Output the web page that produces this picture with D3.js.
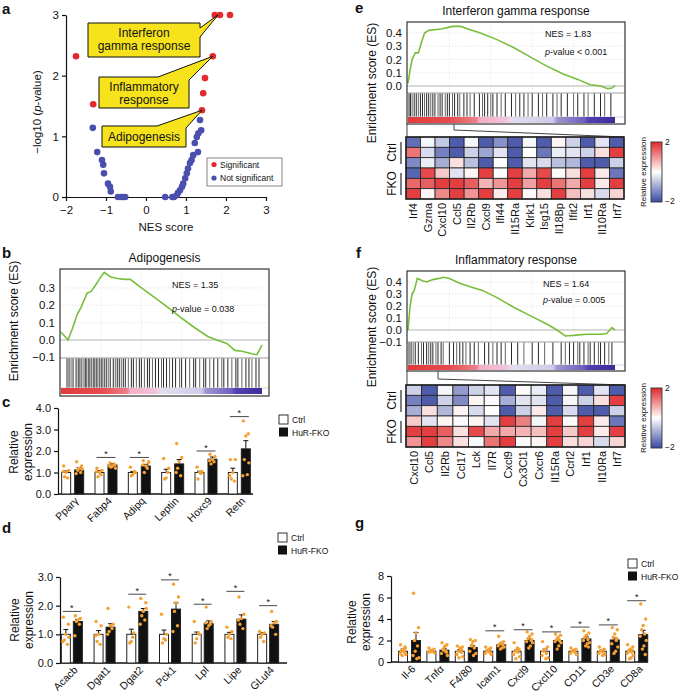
<!DOCTYPE html>
<html><head><meta charset="utf-8">
<script src="https://cdn.jsdelivr.net/npm/d3@7"></script>
<style>body{margin:0;background:#fff}svg{display:block}text{font-family:"Liberation Sans",Arial,Helvetica,sans-serif;fill:#111}</style>
</head><body><svg id="c" width="685" height="694"></svg>
<script>
// ================= DATA =================
// panel a
const aSigNES = [-1.75, -1.32, 1.72, 1.85, 2.1, 1.67, 1.475, 1.43, 1.4];
const aSigP   = [2.32, 1.53, 3.0, 3.0, 3.0, 2.32, 1.96, 1.71, 1.43];
const aNsNES  = [-1.33,-1.22,-1.1,-1.07,-1.05,-0.95,-0.9,-0.88,-0.7,-0.62,-0.57,-0.52,0.48,0.66,0.7,0.77,0.8,0.85,0.9,0.93,0.98,1.02,1.05,1.1,1.14,1.18,1.22,1.27,1.3,1.31,1.35,1.38];
const aNsP    = [1.14,0.74,0.61,0.53,0.39,0.22,0.17,0.09,0,0,0,0,0,0,0,0.03,0.07,0.11,0.17,0.22,0.31,0.39,0.47,0.56,0.61,0.69,0.89,0.99,0.74,1.05,1.27,1.1];
const aXTicks = [-2,-1,0,1,2,3];
const aYTicks = [0,1,2,3];
const aCallouts = [["Interferon","gamma response"],["Inflammatory","response"],["Adipogenesis"]];

// panel b (Adipogenesis)
const bRank = [0,0.035,0.055,0.08,0.10,0.13,0.15,0.18,0.195,0.215,0.245,0.28,0.32,0.345,0.39,0.46,0.53,0.59,0.66,0.73,0.775,0.825,0.865,0.9,0.95,0.975,1.0];
const bES   = [0.046,0.0,0.06,0.145,0.19,0.27,0.28,0.33,0.36,0.39,0.365,0.355,0.35,0.35,0.31,0.25,0.19,0.135,0.075,0.02,0.0,-0.02,-0.06,-0.065,-0.08,-0.085,-0.03];
const bHits = [0.03,0.04,0.05,0.06,0.075,0.085,0.09,0.1,0.11,0.12,0.125,0.135,0.14,0.15,0.16,0.165,0.175,0.18,0.19,0.2,0.205,0.215,0.225,0.235,0.245,0.26,0.27,0.28,0.29,0.30,0.31,0.32,0.335,0.35,0.36,0.375,0.39,0.40,0.415,0.43,0.44,0.455,0.47,0.485,0.5,0.51,0.525,0.54,0.555,0.57,0.59,0.6,0.62,0.64,0.66,0.67,0.69,0.71,0.72,0.74,0.76,0.78,0.8,0.81,0.83,0.85,0.87,0.88,0.9,0.92,0.935,0.95,0.97,0.985];
const bTicks = [-0.1,0,0.1,0.2,0.3];

// panel e (Interferon gamma response)
const eRank = [0,0.01,0.02,0.035,0.05,0.065,0.08,0.10,0.16,0.215,0.255,0.29,0.35,0.43,0.51,0.59,0.67,0.75,0.82,0.88,0.93,0.965,0.985,1.0];
const eES   = [0.02,0.12,0.2,0.25,0.25,0.33,0.40,0.42,0.43,0.45,0.45,0.43,0.40,0.35,0.29,0.22,0.15,0.09,0.05,0.01,0.0,-0.02,-0.015,0.005];
const eHits = [0.005,0.012,0.02,0.03,0.04,0.05,0.06,0.07,0.08,0.09,0.1,0.11,0.12,0.13,0.145,0.155,0.165,0.18,0.19,0.2,0.215,0.225,0.24,0.25,0.27,0.285,0.3,0.32,0.345,0.36,0.37,0.385,0.4,0.41,0.43,0.45,0.47,0.5,0.52,0.54,0.56,0.58,0.6,0.63,0.65,0.67,0.7,0.72,0.74,0.77,0.8,0.82,0.85,0.87,0.9,0.93,0.95,0.98];
const eTicks = [0,0.1,0.2,0.3,0.4];

// panel f (Inflammatory response)
const fRank = [0,0.01,0.02,0.03,0.045,0.07,0.09,0.12,0.15,0.17,0.2,0.25,0.3,0.36,0.43,0.51,0.59,0.67,0.72,0.76,0.8,0.86,0.93,0.96,0.985,1.0];
const fES   = [0.0,0.2,0.3,0.33,0.43,0.41,0.40,0.42,0.43,0.44,0.43,0.39,0.36,0.33,0.27,0.19,0.12,0.05,0.0,-0.05,-0.045,-0.035,-0.035,-0.03,0.02,0.0];
const fHits = [0.005,0.015,0.025,0.035,0.05,0.065,0.075,0.09,0.1,0.11,0.12,0.135,0.145,0.16,0.17,0.2,0.22,0.235,0.25,0.265,0.28,0.3,0.32,0.34,0.37,0.39,0.41,0.43,0.45,0.47,0.5,0.53,0.56,0.6,0.63,0.66,0.7,0.74,0.76,0.78,0.8,0.82,0.83,0.85,0.87,0.88,0.9,0.92,0.93,0.95,0.97,0.985];
const fTicks = [-0.1,0,0.1,0.2,0.3,0.4];

const eGenes = ["Irf4","Gzma","Cxcl10","Ccl5","Il2Rb","Cxcl9","Ifi44","Il15Ra","Klrk1","Isg15","Il18Bp","Ifit2","Irf1","Il10Ra","Irf7"];
const eHeat = [
 [-1.6,-0.1,-0.6,-1.8,-0.1,-1.8,-1.2,-1.8,-0.1,-1.8,0.1,-0.5,-1.8,-0.3,-1.8],
 [1.3,-0.4,-1.4,-1.8,-0.5,-1.0,-0.3,-1.8,0.0,-1.5,-0.2,-0.3,-0.5,0.3,1.8],
 [-1.3,-0.2,-0.9,0.3,-0.7,-1.8,0.0,-1.8,-0.3,-0.4,-0.7,-0.8,-1.8,-1.8,-0.5],
 [-1.7,1.7,0.5,-0.3,0.1,1.8,0.0,1.8,0.8,1.7,0.05,0.3,1.8,0.2,-1.5],
 [1.4,1.5,1.8,1.8,1.5,0.7,1.0,1.8,0.9,1.8,1.3,0.8,1.8,0.2,1.8],
 [1.8,0.1,1.1,1.8,1.0,1.8,0.2,1.8,0.05,0.3,1.8,0.6,0.3,-0.4,0.4]];
const fGenes = ["Cxcl10","Ccl5","Il2Rb","Ccl17","Lck","Il7R","Cxcl9","Cx3Cl1","Cxcr6","Il15Ra","Ccrl2","Irf1","Il10Ra","Irf7"];
const fHeat = [
 [-0.5,-1.8,-0.1,-1.1,-0.5,-0.3,-1.8,0.05,-0.2,-1.8,-0.1,-1.8,-0.3,-1.8],
 [-1.4,-1.8,-0.5,-1.3,0.1,-0.05,-0.9,-0.3,-0.3,-1.8,-0.1,-0.5,0.3,1.8],
 [-0.9,0.3,-0.8,0.1,-0.4,0.0,-1.8,-0.5,0.2,-1.8,-0.4,-1.8,-1.8,-0.5],
 [0.5,-0.3,0.1,-0.05,0.1,-0.3,1.8,1.2,-0.1,1.8,0.05,1.8,0.2,-1.5],
 [1.8,1.8,1.5,0.3,1.7,0.8,0.8,0.7,0.6,1.8,0.5,1.8,0.2,1.8],
 [1.0,1.8,1.1,0.3,-0.05,1.3,1.8,0.05,0.1,1.8,0.3,0.4,-0.4,0.4]];

// panel c
const cGenes = ["Pparγ","Fabp4","Adipq","Leptin","Hoxc9","Retn"];
const cCtrl = [1,1,1,1,1,1];
const cFko = [1.12,1.35,1.3,1.4,1.62,2.1];
const cCtrlErr = [0.07,0.08,0.05,0.15,0.06,0.2];
const cFkoErr = [0.1,0.06,0.08,0.2,0.1,0.38];
const cCtrlDots = [[1.3,1.1,1.0,0.8,0.75,1.05],[1.2,1.1,1.0,0.8,0.9,1.05],[1.25,1.0,0.9,0.85,1.05],[1.65,1.2,0.75,0.7,1.0],[1.25,1.05,1.0,0.7,0.95],[1.6,1.6,1.0,0.7,0.6,0.85]];
const cFkoDots = [[1.5,1.3,1.2,1.1,1.0,0.95,1.15],[1.45,1.35,1.3,1.25,1.4,1.3,1.2],[1.55,1.45,1.3,1.0,1.2,1.35,1.5],[2.35,1.7,1.5,1.2,0.85,1.0],[1.85,1.75,1.6,1.4,1.5,1.55],[3.4,2.8,2.7,1.6,0.9,0.85,1.45]];
const cSig = [null,1.7,1.7,null,2.0,3.6];
const cTicks = [0,1,2,3,4];

// panel d
const dGenes = ["Acacb","Dgat1","Dgat2","Pck1","Lpl","Lipe","GLut4"];
const dCtrl = [1,1,1,1,1,1,1];
const dFko = [1.45,1.25,1.8,1.88,1.37,1.53,1.35];
const dCtrlErr = [0.17,0.13,0.18,0.15,0.08,0.07,0.05];
const dFkoErr = [0.07,0.12,0.1,0.22,0.1,0.15,0.1];
const dCtrlDots = [[1.6,1.35,1.0,0.8,0.65,0.75,0.9],[1.45,1.3,1.0,0.75,0.65,0.95],[1.95,1.05,0.75,0.7,0.9],[1.7,1.0,0.85,0.7,0.8],[1.45,1.0,0.85,0.7,1.05],[1.25,1.1,1.0,0.9,0.85],[1.1,1.05,1.0,0.9,0.75]];
const dFkoDots = [[1.65,1.55,1.5,1.45,1.35,0.95],[1.9,1.35,1.3,1.1,1.2,1.0],[2.25,2.1,1.8,1.65,1.5,1.35,1.9],[2.75,2.3,2.1,1.8,1.3,1.1],[1.95,1.45,1.3,1.2,1.35,1.4],[2.3,1.7,1.55,1.35,1.2,1.5],[1.8,1.45,1.4,1.25,1.0,1.3]];
const dSig = [1.8,null,2.4,2.9,2.05,2.5,2.0];
const dTicks = [0,1,2,3];

// panel g
const gGenes = ["Il-6","Tnfα","F4/80","Icam1","Cxcl9","Cxcl10","CD11","CD3e","CD8a"];
const gCtrl = [1,1,1,1,1,1,1,1,1];
const gFko = [2.0,1.1,1.35,1.6,2.0,2.0,2.15,2.05,2.55];
const gCtrlErr = [0.2,0.05,0.15,0.1,0.12,0.2,0.06,0.1,0.12];
const gFkoErr = [0.75,0.12,0.15,0.1,0.15,0.12,0.18,0.2,0.4];
const gCtrlDots = [[1.6,1.3,1.2,1.0,0.9,0.8,0.7,1.1,0.6,1.4],[1.3,1.2,1.1,1.0,1.0,0.9,0.85,1.05,0.95],[1.5,1.4,1.3,1.0,0.9,0.7,0.5,1.2,0.4,1.1],[1.4,1.3,1.1,1.0,0.9,0.8,0.7,1.2],[1.8,1.2,1.1,1.0,0.9,0.7,0.5,1.3,0.3],[1.9,1.4,1.2,1.0,0.8,0.6,0.4,0.3,1.1],[1.3,1.2,1.1,1.0,0.9,0.8,0.7,1.05],[1.4,1.2,1.1,1.0,0.9,0.8,0.7,0.6],[1.6,1.4,1.2,1.0,0.9,0.8,0.6,0.4,0.3,1.1]];
const gFkoDots = [[6.4,3.2,2.7,2.0,1.5,0.6,0.4,0.3,1.0],[1.8,1.6,1.4,1.2,1.0,0.8,0.6,1.5,1.1,0.9],[2.1,2.0,1.9,1.5,1.3,1.0,0.8,0.6,1.6],[2.4,1.9,1.8,1.7,1.6,1.5,1.4,1.3,1.2],[2.8,2.6,2.4,2.2,2.0,1.9,1.8,1.5,1.3,2.1],[2.6,2.5,2.3,2.1,2.0,1.9,1.8,1.5,1.2],[2.9,2.7,2.5,2.3,2.1,2.0,1.8,1.7,1.5,1.4],[3.2,3.0,2.6,2.3,2.0,1.7,1.4,1.0,0.8,2.2],[5.4,4.0,3.4,3.0,2.6,2.4,2.0,1.5,1.2,0.7]];
const gSig = [null,null,null,2.9,3.0,2.8,3.25,3.45,5.7];
const gTicks = [0,2,4,6,8];

// ================= DRAWING =================
const svg = d3.select("#c");
const RED = "#e5282c", BLUE = "#4a4fae", ORANGE = "#f5a033", GREEN = "#78be3c";
const heatColor = d3.scaleLinear().domain([-2,0,2]).range(["#3b4aa3","#ffffff","#e0292b"]).clamp(true);
const defs = svg.append("defs");

function txt(g, x, y, s, size, opts = {}) {
  const t = g.append("text").attr("x", x).attr("y", y).attr("font-size", size).text(s);
  if (opts.anchor) t.attr("text-anchor", opts.anchor);
  if (opts.weight) t.attr("font-weight", opts.weight);
  if (opts.transform) t.attr("transform", opts.transform);
  return t;
}
function letter(x, y, s) { txt(svg, x, y, s, 15, {weight: "bold"}); }
function styleAxis(sel, size) {
  sel.selectAll("path,line").attr("stroke", "#111").attr("stroke-width", 1.2);
  sel.selectAll("text").attr("font-size", size).attr("fill", "#111")
    .attr("font-family", '"Liberation Sans",Arial,sans-serif');
}

// ---------- panel a ----------
(function(){
  letter(2, 14, "a");
  const x = d3.scaleLinear().domain([-2,3]).range([66,266]);
  const y = d3.scaleLinear().domain([0,3]).range([197,15]);
  const g = svg.append("g");
  g.append("g").attr("transform","translate(0,197)")
    .call(d3.axisBottom(x).tickValues(aXTicks).tickSize(4).tickSizeOuter(0).tickFormat(d3.format("d")))
    .call(s=>styleAxis(s,11.5)).call(s=>s.selectAll("text").attr("dy","0.9em"));
  g.append("g").attr("transform","translate(66,0)")
    .call(d3.axisLeft(y).tickValues(aYTicks).tickSize(4).tickSizeOuter(0).tickFormat(d3.format("d")))
    .call(s=>styleAxis(s,11.5));
  txt(g, 166, 231, "NES score", 11.5, {anchor:"middle"});
  const yl = g.append("text").attr("transform","translate(41,112) rotate(-90)").attr("text-anchor","middle").attr("font-size",11.5);
  yl.append("tspan").text("−log10 (");
  yl.append("tspan").attr("font-style","italic").text("p");
  yl.append("tspan").text("-value)");
  g.selectAll("circle.ns").data(aNsNES).join("circle").attr("class","ns")
    .attr("cx",d=>x(d)).attr("cy",(d,i)=>y(aNsP[i])).attr("r",3.3).attr("fill",BLUE);
  g.selectAll("circle.sig").data(aSigNES).join("circle").attr("class","sig")
    .attr("cx",d=>x(d)).attr("cy",(d,i)=>y(aSigP[i])).attr("r",3.3).attr("fill",RED);
  const shapes = [
    [[88,23],[200,23],[200,28],[x(1.8),y(3)],[200,37],[200,57],[88,57]],
    [[99,77],[158,77],[x(1.67),y(2.32)],[189,80],[189,108],[99,108]],
    [[102,126],[157,126],[x(1.4),y(1.43)],[186,128],[186,147],[102,147]]];
  const base = [[37,50],[91,104],[141]];
  shapes.forEach((p,i)=>{
    g.append("polygon").attr("points",p.map(q=>q.join(",")).join(" "))
      .attr("fill","#f6e31b").attr("stroke","#111").attr("stroke-width",1);
    aCallouts[i].forEach((s,k)=> txt(g,144,base[i][k],s,12,{anchor:"middle"}));
  });
  g.append("rect").attr("x",207).attr("y",158).attr("width",75).attr("height",28).attr("fill","#fff").attr("stroke","#666").attr("stroke-width",0.8);
  g.append("circle").attr("cx",214).attr("cy",164.5).attr("r",2.6).attr("fill",RED);
  g.append("circle").attr("cx",214).attr("cy",178).attr("r",2.6).attr("fill",BLUE);
  txt(g,220,167.5,"Significant",8.5);
  txt(g,220,181,"Not significant",8.5);
})();

// ---------- ES panels ----------
function makeGradient(id){
  const lg = defs.append("linearGradient").attr("id",id).attr("x1","0").attr("x2","1").attr("y1","0").attr("y2","0");
  [[0,"#e23b3b"],[0.2,"#e54b4d"],[0.33,"#ee7f8c"],[0.345,"#f2b0c6"],[0.47,"#f1c3d9"],[0.5,"#e3ddf0"],[0.7,"#d2cae8"],[0.72,"#a094d2"],[0.85,"#6d5fbe"],[0.87,"#5141b0"],[1,"#3b2c9c"]]
    .forEach(s=>lg.append("stop").attr("offset",s[0]).attr("stop-color",s[1]));
}
makeGradient("rankgrad");

function esPanel(o){
  const g = svg.append("g");
  const x = d3.scaleLinear().domain([0,1]).range([o.x0,o.x1]);
  const y = d3.scaleLinear().domain(o.yDom).range(o.yRange);
  o.ticks.forEach(t=>{ if (t!==0) g.append("line").attr("x1",o.left).attr("x2",o.right).attr("y1",y(t)).attr("y2",y(t))
      .attr("stroke","#dcdcdc").attr("stroke-width",0.6).attr("stroke-dasharray","1.5,1.5"); });
  [0.2,0.4,0.6,0.8].forEach(f=> g.append("line").attr("x1",x(f)).attr("x2",x(f)).attr("y1",o.top).attr("y2",o.esBottom)
      .attr("stroke","#e2e2e2").attr("stroke-width",0.6).attr("stroke-dasharray","1.5,1.5"));
  g.append("line").attr("x1",o.left).attr("x2",o.right).attr("y1",y(0)).attr("y2",y(0)).attr("stroke","#aaa").attr("stroke-width",0.9);
  g.append("line").attr("x1",o.left).attr("x2",o.right).attr("y1",o.esBottom).attr("y2",o.esBottom).attr("stroke","#888").attr("stroke-width",0.8);
  g.append("line").attr("x1",o.left).attr("x2",o.right).attr("y1",o.colorTop).attr("y2",o.colorTop).attr("stroke","#bbb").attr("stroke-width",0.6);
  g.selectAll("line.hit").data(o.hits).join("line").attr("class","hit")
    .attr("x1",d=>x(d)).attr("x2",d=>x(d)).attr("y1",o.esBottom+0.5).attr("y2",o.colorTop-0.5)
    .attr("stroke",(d,i)=> i%3===2 ? "#555" : "#111").attr("stroke-width",0.9);
  g.append("rect").attr("x",o.x0).attr("y",o.colorTop).attr("width",o.x1-o.x0).attr("height",o.colorBottom-o.colorTop).attr("fill","url(#rankgrad)");
  const line = d3.line().x(d=>x(d[0])).y(d=>y(d[1]));
  g.append("path").attr("d",line(o.rank.map((r,i)=>[r,o.es[i]]))).attr("fill","none").attr("stroke",GREEN).attr("stroke-width",1.6);
  g.append("rect").attr("x",o.left).attr("y",o.top).attr("width",o.right-o.left).attr("height",o.bottom-o.top)
    .attr("fill","none").attr("stroke","#333").attr("stroke-width",1.2);
  const fmt = d3.format(".1f");
  o.ticks.forEach(t=> txt(g,o.left-5,y(t)+4,fmt(t),11.5,{anchor:"end"}));
  txt(g,(o.left+o.right)/2,o.titleY,o.title,12,{anchor:"middle"});
  txt(g,o.nesX,o.nesY1,o.nes,9);
  const p = g.append("text").attr("x",o.nesX).attr("y",o.nesY2).attr("font-size",9);
  p.append("tspan").attr("font-style","italic").text("p");
  p.append("tspan").text(o.pval);
  txt(g,0,0,"Enrichment score (ES)",12,{anchor:"middle",transform:`translate(${o.ylabX},${o.ylabY}) rotate(-90)`});
}

letter(2, 258, "b");
esPanel({title:"Adipogenesis",titleY:262,left:60,right:269,top:269,bottom:396,x0:61,x1:262,
  yDom:[-0.1,0.3],yRange:[357.3,288],esBottom:358,colorTop:388,colorBottom:394,
  ticks:bTicks,rank:bRank,es:bES,hits:bHits,nes:"NES = 1.35",pval:"-value = 0.038",nesX:172,nesY1:288,nesY2:312,ylabX:18,ylabY:321});

letter(355, 13, "e");
esPanel({title:"Interferon gamma response",titleY:15,left:407,right:625,top:22,bottom:124,x0:408,x1:615,
  yDom:[0,0.4],yRange:[86,33],esBottom:93,colorTop:117,colorBottom:123,
  ticks:eTicks,rank:eRank,es:eES,hits:eHits,nes:"NES = 1.83",pval:"-value < 0.001",nesX:545,nesY1:37,nesY2:55,ylabX:376,ylabY:83});

letter(356, 258, "f");
esPanel({title:"Inflammatory response",titleY:264,left:407,right:625,top:271,bottom:371,x0:408,x1:615,
  yDom:[-0.1,0.4],yRange:[342,282],esBottom:342,colorTop:365,colorBottom:370,
  ticks:fTicks,rank:fRank,es:fES,hits:fHits,nes:"NES = 1.64",pval:"-value = 0.005",nesX:543,nesY1:287,nesY2:303,ylabX:376,ylabY:327});

// ---------- heatmaps ----------
const cbGrad = defs.append("linearGradient").attr("id","cbgrad").attr("x1","0").attr("x2","0").attr("y1","0").attr("y2","1");
[[0,heatColor(2)],[0.5,heatColor(0)],[1,heatColor(-2)]].forEach(s=>cbGrad.append("stop").attr("offset",s[0]).attr("stop-color",s[1]));

function heatmap(o){
  const g = svg.append("g");
  g.append("polyline").attr("points",`${o.left+1},${o.boxBottom} ${o.left+1},${o.top}`).attr("fill","none").attr("stroke","#444").attr("stroke-width",1);
  g.append("polyline").attr("points",`${o.bx},${o.boxBottom} ${o.bx},${o.by} ${o.right},${o.top}`).attr("fill","none").attr("stroke","#444").attr("stroke-width",1);
  const x = d3.scaleBand().domain(o.genes).range([o.left,o.right]);
  const y = d3.scaleBand().domain(d3.range(o.data.length)).range([o.top,o.bottom]);
  o.data.forEach((row,r)=> row.forEach((v,c)=>{
    g.append("rect").attr("x",x(o.genes[c])).attr("y",y(r)).attr("width",x.bandwidth()).attr("height",y.bandwidth())
      .attr("fill",heatColor(v)).attr("stroke","#222").attr("stroke-width",0.8);
  }));
  g.append("rect").attr("x",o.left).attr("y",o.top).attr("width",o.right-o.left).attr("height",o.bottom-o.top)
    .attr("fill","none").attr("stroke","#222").attr("stroke-width",1.5);
  o.genes.forEach(gn=> txt(g,0,0,gn,11,{anchor:"end",transform:`translate(${x(gn)+x.bandwidth()/2},${o.bottom+4}) rotate(-90)`}).attr("dy","0.36em"));
  ["Ctrl","FKO"].forEach((lab,k)=>{
    const y0 = y(k*3), y1 = y(k*3+2)+y.bandwidth();
    txt(g,0,0,lab,12,{anchor:"middle",transform:`translate(396,${(y0+y1)/2}) rotate(-90)`});
    g.append("line").attr("x1",401).attr("x2",401).attr("y1",y0+5).attr("y2",y1-4).attr("stroke","#111").attr("stroke-width",1.1);
  });
  g.append("rect").attr("x",651).attr("y",o.cbTop).attr("width",11).attr("height",o.cbBottom-o.cbTop)
    .attr("fill","url(#cbgrad)").attr("stroke","#333").attr("stroke-width",0.9);
  txt(g,665,o.cbTop+3,"2",8.5);
  txt(g,665,o.cbBottom+2,"−2",8.5);
  txt(g,0,0,"Relative expression",8,{anchor:"middle",transform:`translate(646,${(o.cbTop+o.cbBottom)/2}) rotate(-90)`});
}
heatmap({genes:eGenes,data:eHeat,left:406,right:624,top:137,bottom:199,boxBottom:124,bx:454,by:130,cbTop:142,cbBottom:202});
heatmap({genes:fGenes,data:fHeat,left:406,right:625,top:385,bottom:447,boxBottom:371,bx:438,by:379,cbTop:388,cbBottom:448});

// ---------- bar panels ----------
const jit = [-2.5,2.5,0,-1.5,1.5,-3,3,0.8,-0.8,2,-2];
function barPanel(o){
  const g = svg.append("g");
  const x = d3.scaleBand().domain(o.genes).range(o.band);
  const y = d3.scaleLinear().domain([0,o.yMax]).range([o.y0,o.yTop]);
  g.append("g").attr("transform",`translate(${o.axisX},0)`)
    .call(d3.axisLeft(y).tickValues(o.ticks).tickSize(4).tickSizeOuter(0))
    .call(s=>styleAxis(s,11));
  g.append("line").attr("x1",o.axisX).attr("x2",o.axisEnd).attr("y1",o.y0).attr("y2",o.y0).attr("stroke","#111").attr("stroke-width",1.3);
  const bw = 9;
  o.genes.forEach((gn,i)=>{
    const cx = x(gn)+x.bandwidth()/2;
    const groups = [
      {bx:cx-o.off, v:o.ctrl[i], e:o.ctrlErr[i], dots:o.ctrlDots[i], fill:"#fff"},
      {bx:cx+o.off, v:o.fko[i], e:o.fkoErr[i], dots:o.fkoDots[i], fill:"#111"}];
    groups.forEach(b=>{
      g.append("line").attr("x1",b.bx).attr("x2",b.bx).attr("y1",y(b.v)).attr("y2",y(b.v+b.e)).attr("stroke","#111").attr("stroke-width",1);
      g.append("line").attr("x1",b.bx-2.5).attr("x2",b.bx+2.5).attr("y1",y(b.v+b.e)).attr("y2",y(b.v+b.e)).attr("stroke","#111").attr("stroke-width",1);
      g.append("rect").attr("x",b.bx-bw/2).attr("y",y(b.v)).attr("width",bw).attr("height",o.y0-y(b.v))
        .attr("fill",b.fill).attr("stroke","#222").attr("stroke-width",1);
    });
    groups.forEach(b=>{
      g.selectAll(null).data(b.dots).join("circle").attr("cx",(d,k)=>b.bx+jit[k%jit.length]).attr("cy",d=>y(d))
        .attr("r",1.7).attr("fill",ORANGE);
    });
    if (o.sig[i] !== null) {
      g.append("line").attr("x1",cx-o.off-3).attr("x2",cx+o.off+3).attr("y1",y(o.sig[i])).attr("y2",y(o.sig[i])).attr("stroke","#333").attr("stroke-width",0.9);
      txt(g,cx,y(o.sig[i])-0.5,"*",9,{anchor:"middle"});
    }
    txt(g,0,0,gn,10.5,{anchor:"end",transform:`translate(${cx+4},${o.y0+5}) rotate(-45)`}).attr("dy","0.35em");
  });
  txt(g,0,0,"Relative",12,{anchor:"middle",transform:`translate(${o.ylabX},${o.ylabY}) rotate(-90)`});
  txt(g,0,0,"expression",12,{anchor:"middle",transform:`translate(${o.ylabX+14},${o.ylabY}) rotate(-90)`});
  const L = o.legend;
  g.append("rect").attr("x",L[0]).attr("y",L[1]).attr("width",9).attr("height",9).attr("fill","#fff").attr("stroke","#333").attr("stroke-width",1);
  g.append("rect").attr("x",L[0]).attr("y",L[1]+12.5).attr("width",9).attr("height",9).attr("fill","#111");
  txt(g,L[0]+13,L[1]+8,"Ctrl",8.5);
  txt(g,L[0]+13,L[1]+20.5,"HuR-FKO",8.5);
}

letter(2, 407, "c");
barPanel({genes:cGenes,ctrl:cCtrl,fko:cFko,ctrlErr:cCtrlErr,fkoErr:cFkoErr,ctrlDots:cCtrlDots,fkoDots:cFkoDots,sig:cSig,
  ticks:cTicks,yMax:4,y0:494,yTop:408,axisX:58,axisEnd:253,band:[56,256],off:6.5,ylabX:18,ylabY:452,legend:[279,415]});

letter(2, 533, "d");
barPanel({genes:dGenes,ctrl:dCtrl,fko:dFko,ctrlErr:dCtrlErr,fkoErr:dFkoErr,ctrlDots:dCtrlDots,fkoDots:dFkoDots,sig:dSig,
  ticks:dTicks,yMax:3,y0:663,yTop:577,axisX:60,axisEnd:287,band:[55.5,284.5],off:6,ylabX:19,ylabY:620,legend:[278,533]});

letter(355, 528, "g");
barPanel({genes:gGenes,ctrl:gCtrl,fko:gFko,ctrlErr:gCtrlErr,fkoErr:gFkoErr,ctrlDots:gCtrlDots,fkoDots:gFkoDots,sig:gSig,
  ticks:gTicks,yMax:8,y0:662,yTop:576,axisX:391,axisEnd:648,band:[395.3,650.9],off:6.5,ylabX:356,ylabY:622,legend:[628,559]});
</script></body></html>
